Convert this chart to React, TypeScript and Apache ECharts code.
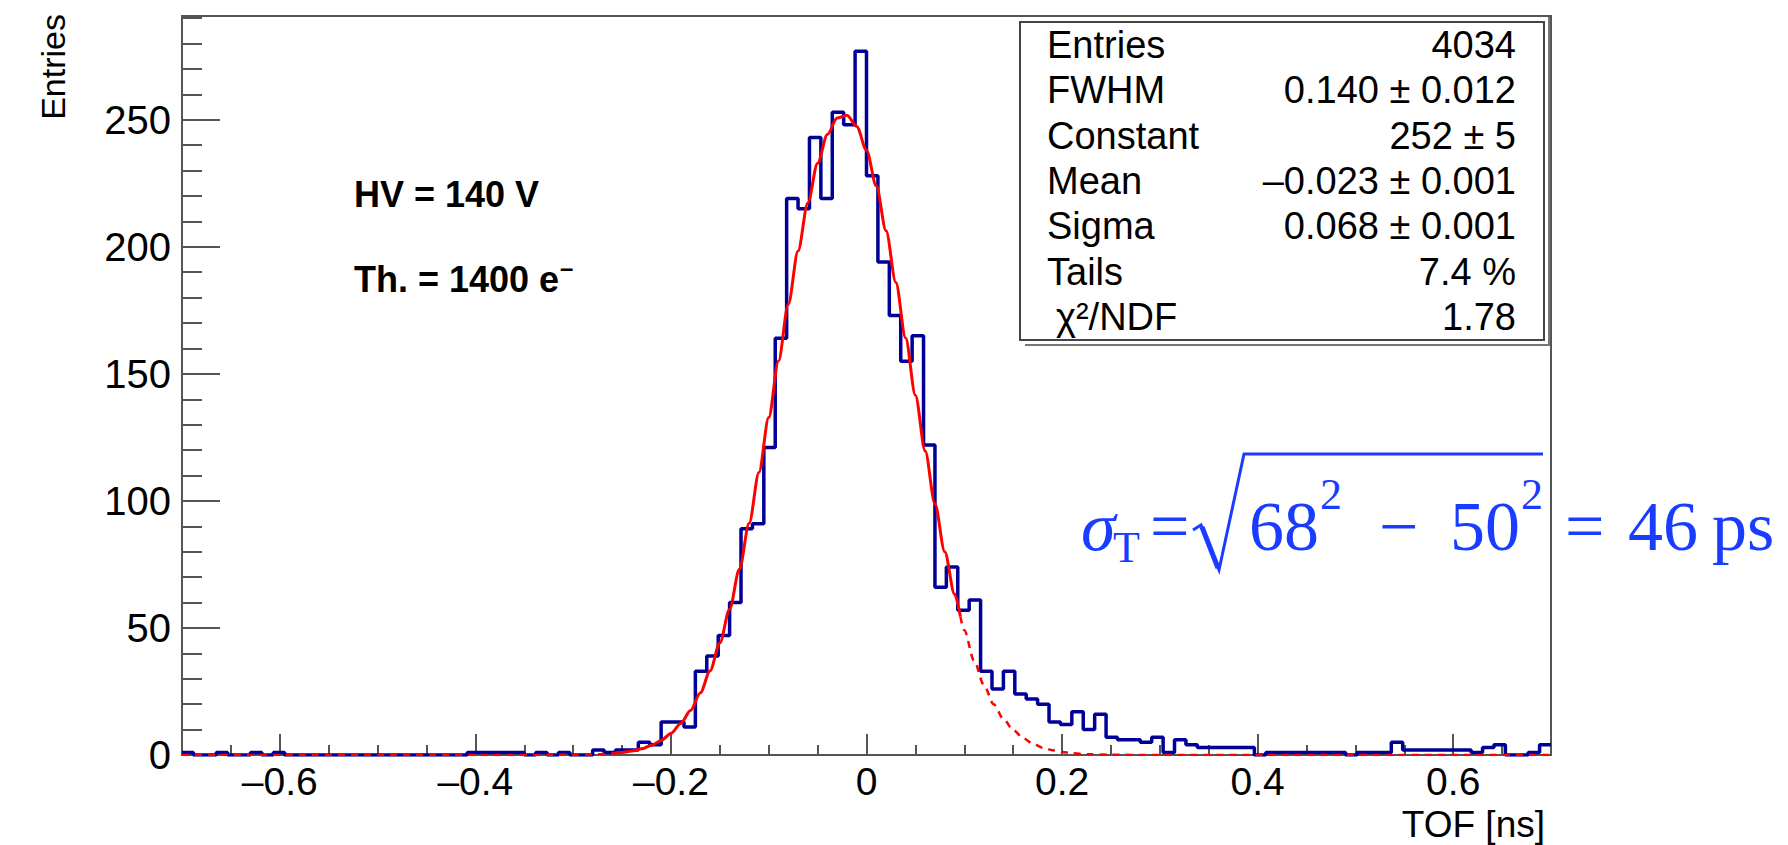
import React, { useEffect, useRef } from "react";
import * as echarts from "echarts";

// ---------------- data ----------------
const X_MIN = -0.7;
const X_MAX = 0.7;
const N_BINS = 120;
const Y_MAX = 290.85;

// bin contents (120 bins from -0.7 to 0.7 ns)
const counts: number[] = [
  1, 0, 0, 1, 0, 0, 1, 0, 1, 0,
  0, 0, 0, 0, 0, 0, 0, 0, 0, 0,
  0, 0, 0, 0, 0, 1, 1, 1, 1, 1,
  0, 1, 0, 1, 0, 0, 2, 1, 2, 2,
  5, 4, 13, 13, 11, 33, 39, 47, 60, 89,
  91, 121, 164, 219, 215, 243, 219, 253, 248, 277,
  228, 194, 173, 155, 165, 122, 66, 74, 57, 61,
  33, 26, 33, 24, 22, 20, 13, 12, 17, 10,
  16, 7, 6, 6, 5, 7, 1, 6, 4, 3,
  3, 3, 3, 3, 0, 1, 1, 1, 1, 1,
  1, 1, 0, 1, 1, 1, 5, 2, 2, 2,
  2, 2, 2, 1, 3, 4, 0, 0, 1, 4,
];

// fit curve (Gaussian fit)
const fitLeftX = [-0.7, -0.4, -0.3, -0.28, -0.27, -0.26];
const fitLeftY = [0, 0, 0.06, 0.2, 0.34, 0.58];
const fitCoreX = [
  -0.26, -0.25, -0.24, -0.23, -0.22, -0.21, -0.2, -0.19, -0.18, -0.17,
  -0.16, -0.15, -0.14, -0.13, -0.12, -0.11, -0.1, -0.09, -0.08, -0.07,
  -0.06, -0.05, -0.04, -0.03, -0.02, -0.01, 0, 0.01, 0.02, 0.03,
  0.04, 0.05, 0.06, 0.07, 0.08, 0.09, 0.096,
];
const fitCoreY = [
  0.58, 0.96, 1.55, 2.45, 3.8, 5.75, 8.51, 12.4, 17.5, 24.4,
  33.1, 44.1, 57.4, 73.1, 91.2, 111.2, 132.8, 155.1, 177.4, 198.4,
  217.3, 232.9, 244.2, 250.7, 251.8, 247.4, 238.0, 224.0, 206.3, 186.0,
  164.1, 141.6, 119.6, 98.9, 80.0, 63.4, 54.5,
];
const fitRightX = [0.096, 0.1, 0.11, 0.12, 0.13, 0.14, 0.15, 0.16, 0.17, 0.18, 0.19, 0.2, 0.21, 0.22, 0.23, 0.25, 0.3, 0.7];
const fitRightY = [54.5, 49.1, 37.2, 27.6, 20.0, 14.2, 9.9, 6.7, 4.5, 2.9, 1.9, 1.2, 0.7, 0.4, 0.25, 0.08, 0, 0];

// ticks
const xMajorTicks = [-0.6, -0.4, -0.2, 0, 0.2, 0.4, 0.6];
const xMinorTicks = [
  -0.7, -0.65, -0.6, -0.55, -0.5, -0.45, -0.4, -0.35, -0.3, -0.25, -0.2, -0.15, -0.1, -0.05,
  0, 0.05, 0.1, 0.15, 0.2, 0.25, 0.3, 0.35, 0.4, 0.45, 0.5, 0.55, 0.6, 0.65, 0.7,
];
const yMajorTicks = [0, 50, 100, 150, 200, 250];
const yMinorTicks = [
  0, 10, 20, 30, 40, 50, 60, 70, 80, 90, 100, 110, 120, 130, 140, 150, 160, 170, 180, 190,
  200, 210, 220, 230, 240, 250, 260, 270, 280, 290,
];

// stats box
const statsLabels = ["Entries", "FWHM", "Constant", "Mean", "Sigma", "Tails", "\u03c7\u00b2/NDF"];
const statsValues = ["4034", "0.140 \u00b1 0.012", "252 \u00b1 5", "\u20130.023 \u00b1 0.001", "0.068 \u00b1 0.001", "7.4 %", "1.78"];

const SANS = '"Liberation Sans", Arial, Helvetica, sans-serif';
const SERIF = '"Liberation Serif", "Times New Roman", serif';
const AXIS_COLOR = "#555";
const BLUE_TXT = "#1a3cff";

function fmtX(v: number) {
  if (Math.abs(v) < 1e-9) return "0";
  const s = Math.abs(v).toFixed(1);
  return v < 0 ? "\u2013" + s : s;
}

function txt(x: number, y: number, text: string, opts: any = {}) {
  const align = opts.align || "left";
  const valign = opts.valign || "middle";
  return {
    type: "text",
    x,
    y,
    rotation: opts.rotation || 0,
    z: 100,
    style: {
      text,
      fill: opts.color || "#000",
      fontSize: opts.size || 38,
      fontFamily: opts.family || SANS,
      fontWeight: opts.weight || "normal",
      fontStyle: opts.style || "normal",
      align,
      textAlign: align,
      verticalAlign: valign,
      textVerticalAlign: valign,
    },
  };
}

export default function App() {
  const ref = useRef<HTMLDivElement>(null);

  useEffect(() => {
    if (!ref.current) return;
    const chart = echarts.init(ref.current, null, { renderer: "svg" });

    const bw = (X_MAX - X_MIN) / N_BINS;
    const histData: number[][] = counts.map((c, i) => [X_MIN + i * bw, c]);
    histData.push([X_MAX, counts[counts.length - 1]]);

    const pair = (xs: number[], ys: number[]) => xs.map((x, i) => [x, ys[i]]);

    // measure for superscript placement
    const ctx = document.createElement("canvas").getContext("2d")!;
    ctx.font = `bold 36px ${SANS}`;
    const thW = ctx.measureText("Th. = 1400 e").width;

    const graphics: any[] = [];
    // axis titles
    graphics.push(txt(53, 14, "Entries", { align: "right", rotation: Math.PI / 2, size: 34 }));
    graphics.push(txt(1545, 824, "TOF [ns]", { align: "right", size: 37 }));
    // HV annotations
    graphics.push(txt(354, 194, "HV = 140 V", { weight: "bold", size: 36 }));
    graphics.push(txt(354, 279, "Th. = 1400 e", { weight: "bold", size: 36 }));
    graphics.push(txt(354 + thW + 1, 267, "\u2013", { weight: "bold", size: 24 }));

    // stats box
    graphics.push({
      type: "polyline",
      z: 90,
      shape: { points: [[1549, 17], [1549, 345], [1025, 345]] },
      style: { stroke: "#777", lineWidth: 2, fill: null },
    });
    graphics.push({
      type: "rect",
      z: 91,
      shape: { x: 1020, y: 22, width: 524, height: 318 },
      style: { fill: "#fff", stroke: "#444", lineWidth: 2 },
    });
    statsLabels.forEach((l, i) => {
      const y = 45 + i * 45.3;
      graphics.push(txt(i === 6 ? 1056 : 1047, y, l, { size: 38 }));
      graphics.push(txt(1516, y, statsValues[i], { size: 38, align: "right" }));
    });

    // blue formula
    const fy = 526;
    const F = 70;
    const S = 44;
    const blue = (x: number, y: number, t: string, size: number, style = "normal") =>
      txt(x, y, t, { family: SERIF, size, style, color: BLUE_TXT });
    graphics.push(blue(1081, fy, "\u03c3", F, "italic"));
    graphics.push(blue(1113, fy + 21, "T", S));
    graphics.push(blue(1150, fy, "=", F));
    graphics.push({
      type: "polyline",
      z: 100,
      shape: { points: [[1193, fy + 4], [1201, fy - 1], [1219, fy + 44], [1244, fy - 72], [1543, fy - 72]] },
      style: { stroke: BLUE_TXT, lineWidth: 3, fill: null, lineJoin: "miter" },
    });
    graphics.push({
      type: "line",
      z: 100,
      shape: { x1: 1202, y1: fy + 1, x2: 1218, y2: fy + 42 },
      style: { stroke: BLUE_TXT, lineWidth: 5 },
    });
    graphics.push(blue(1249, fy, "68", F));
    graphics.push(blue(1320, fy - 32, "2", S));
    graphics.push(blue(1379, fy, "\u2212", F));
    graphics.push(blue(1450, fy, "50", F));
    graphics.push(blue(1521, fy - 32, "2", S));
    graphics.push(blue(1565, fy, "=", F));
    graphics.push(blue(1628, fy, "46", F));
    graphics.push(blue(1712, fy, "ps", F));

    const tickLine = { color: AXIS_COLOR, width: 2 };

    const option: any = {
      animation: false,
      backgroundColor: "#fff",
      grid: {
        left: 182,
        top: 16,
        width: 1369,
        height: 739,
        show: true,
        borderColor: AXIS_COLOR,
        borderWidth: 2,
        backgroundColor: "transparent",
        containLabel: false,
        outerBoundsMode: "none",
      },
      xAxis: [
        {
          type: "value",
          min: X_MIN,
          max: X_MAX,
          position: "bottom",
          axisLine: { show: true, onZero: false, lineStyle: tickLine },
          axisTick: { show: true, inside: true, length: 21, customValues: xMajorTicks, lineStyle: tickLine },
          axisLabel: {
            show: true,
            customValues: xMajorTicks,
            formatter: (v: number) => fmtX(v),
            fontSize: 39,
            fontFamily: SANS,
            color: "#000",
            margin: 7,
            lineHeight: 39,
          },
          splitLine: { show: false },
        },
        {
          type: "value",
          min: X_MIN,
          max: X_MAX,
          position: "bottom",
          axisLine: { show: false, onZero: false },
          axisTick: { show: true, inside: true, length: 10, customValues: xMinorTicks, lineStyle: tickLine },
          axisLabel: { show: false },
          splitLine: { show: false },
        },
      ],
      yAxis: [
        {
          type: "value",
          min: 0,
          max: Y_MAX,
          position: "left",
          axisLine: { show: true, onZero: false, lineStyle: tickLine },
          axisTick: { show: true, inside: true, length: 38, customValues: yMajorTicks, lineStyle: tickLine },
          axisLabel: {
            show: true,
            customValues: yMajorTicks,
            fontSize: 40,
            fontFamily: SANS,
            color: "#000",
            margin: 11,
          },
          splitLine: { show: false },
        },
        {
          type: "value",
          min: 0,
          max: Y_MAX,
          position: "left",
          axisLine: { show: false, onZero: false },
          axisTick: { show: true, inside: true, length: 20, customValues: yMinorTicks, lineStyle: tickLine },
          axisLabel: { show: false },
          splitLine: { show: false },
        },
      ],
      series: [
        {
          type: "line",
          step: "end",
          data: histData,
          symbol: "none",
          xAxisIndex: 0,
          yAxisIndex: 0,
          lineStyle: { color: "#000099", width: 3.5 },
          z: 2,
          silent: true,
        },
        {
          type: "line",
          data: pair(fitLeftX, fitLeftY),
          symbol: "none",
          smooth: 0.3,
          smoothMonotone: "x",
          lineStyle: { color: "#ff0000", width: 2.5, type: [7, 6] },
          z: 3,
          silent: true,
        },
        {
          type: "line",
          data: pair(fitCoreX, fitCoreY),
          symbol: "none",
          smooth: 0.3,
          smoothMonotone: "x",
          lineStyle: { color: "#ff0000", width: 3 },
          z: 3,
          silent: true,
        },
        {
          type: "line",
          data: pair(fitRightX, fitRightY),
          symbol: "none",
          smooth: 0.3,
          smoothMonotone: "x",
          lineStyle: { color: "#ff0000", width: 2.5, type: [7, 6] },
          z: 3,
          silent: true,
        },
      ],
      graphic: graphics,
    };

    chart.setOption(option);
    return () => chart.dispose();
  }, []);

  return (
    <div
      ref={ref}
      style={{ position: "fixed", left: 0, top: 0, width: 1788, height: 845, background: "#fff" }}
    />
  );
}
